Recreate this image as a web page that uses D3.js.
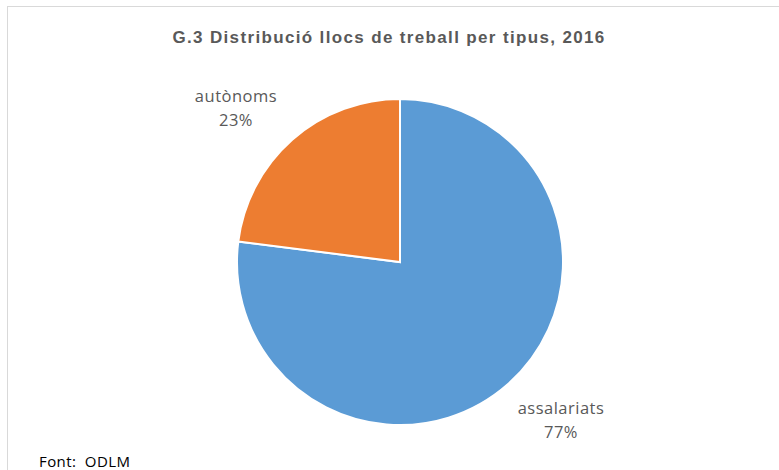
<!DOCTYPE html>
<html><head><meta charset="utf-8">
<script src="https://cdn.jsdelivr.net/npm/d3@7"></script>
<style>body{margin:0;background:#fff}svg{display:block}text{white-space:pre}</style>
</head><body>
<script>
const categories = ["assalariats", "autònoms"];
const values = [77, 23];
const colors = ["#5B9BD5", "#ED7D31"];
const title = "G.3 Distribució llocs de treball per tipus, 2016";
const source = "Font:  ODLM";

const W = 779, H = 470;
const svg = d3.select("body").append("svg").attr("width", W).attr("height", H);
svg.append("rect").attr("x", 7.5).attr("y", 6.5).attr("width", W).attr("height", H)
  .attr("fill", "#fff").attr("stroke", "#D9D9D9").attr("stroke-width", 1);

svg.append("text").attr("x", 389).attr("y", 43).attr("text-anchor", "middle")
  .attr("font-family", "Liberation Sans, Arial, sans-serif").attr("font-weight", "bold")
  .attr("font-size", 17).attr("letter-spacing", 1.35).attr("fill", "#595959").text(title);

const cx = 400, cy = 262, r = 163;
const pie = d3.pie().sort(null).value(d => d.v);
const data = pie(categories.map((c, i) => ({c, v: values[i], col: colors[i]})));
const arc = d3.arc().innerRadius(0).outerRadius(r);
const g = svg.append("g").attr("transform", `translate(${cx},${cy})`);
g.selectAll("path").data(data).enter().append("path")
  .attr("d", arc).attr("fill", d => d.data.col)
  .attr("stroke", "#fff").attr("stroke-width", 2).attr("stroke-linejoin", "miter");

const labelPos = [[161, 152], [-164, -160]];
data.forEach((d, i) => {
  const t = g.append("text").attr("text-anchor", "middle")
    .attr("font-family", "Open Sans, Liberation Sans, sans-serif").attr("font-size", 16.5)
    .attr("letter-spacing", 0.5).attr("fill", "#595959");
  t.append("tspan").attr("x", labelPos[i][0]).attr("y", labelPos[i][1]).text(d.data.c);
  t.append("tspan").attr("x", labelPos[i][0]).attr("y", labelPos[i][1] + 24).text(Math.round(d.data.v) + "%");
});

svg.append("text").attr("x", 39).attr("y", 467)
  .attr("font-family", "Open Sans, Liberation Sans, sans-serif").attr("font-size", 15)
  .attr("letter-spacing", 0.4).attr("fill", "#000").text(source);
</script>
</body></html>
